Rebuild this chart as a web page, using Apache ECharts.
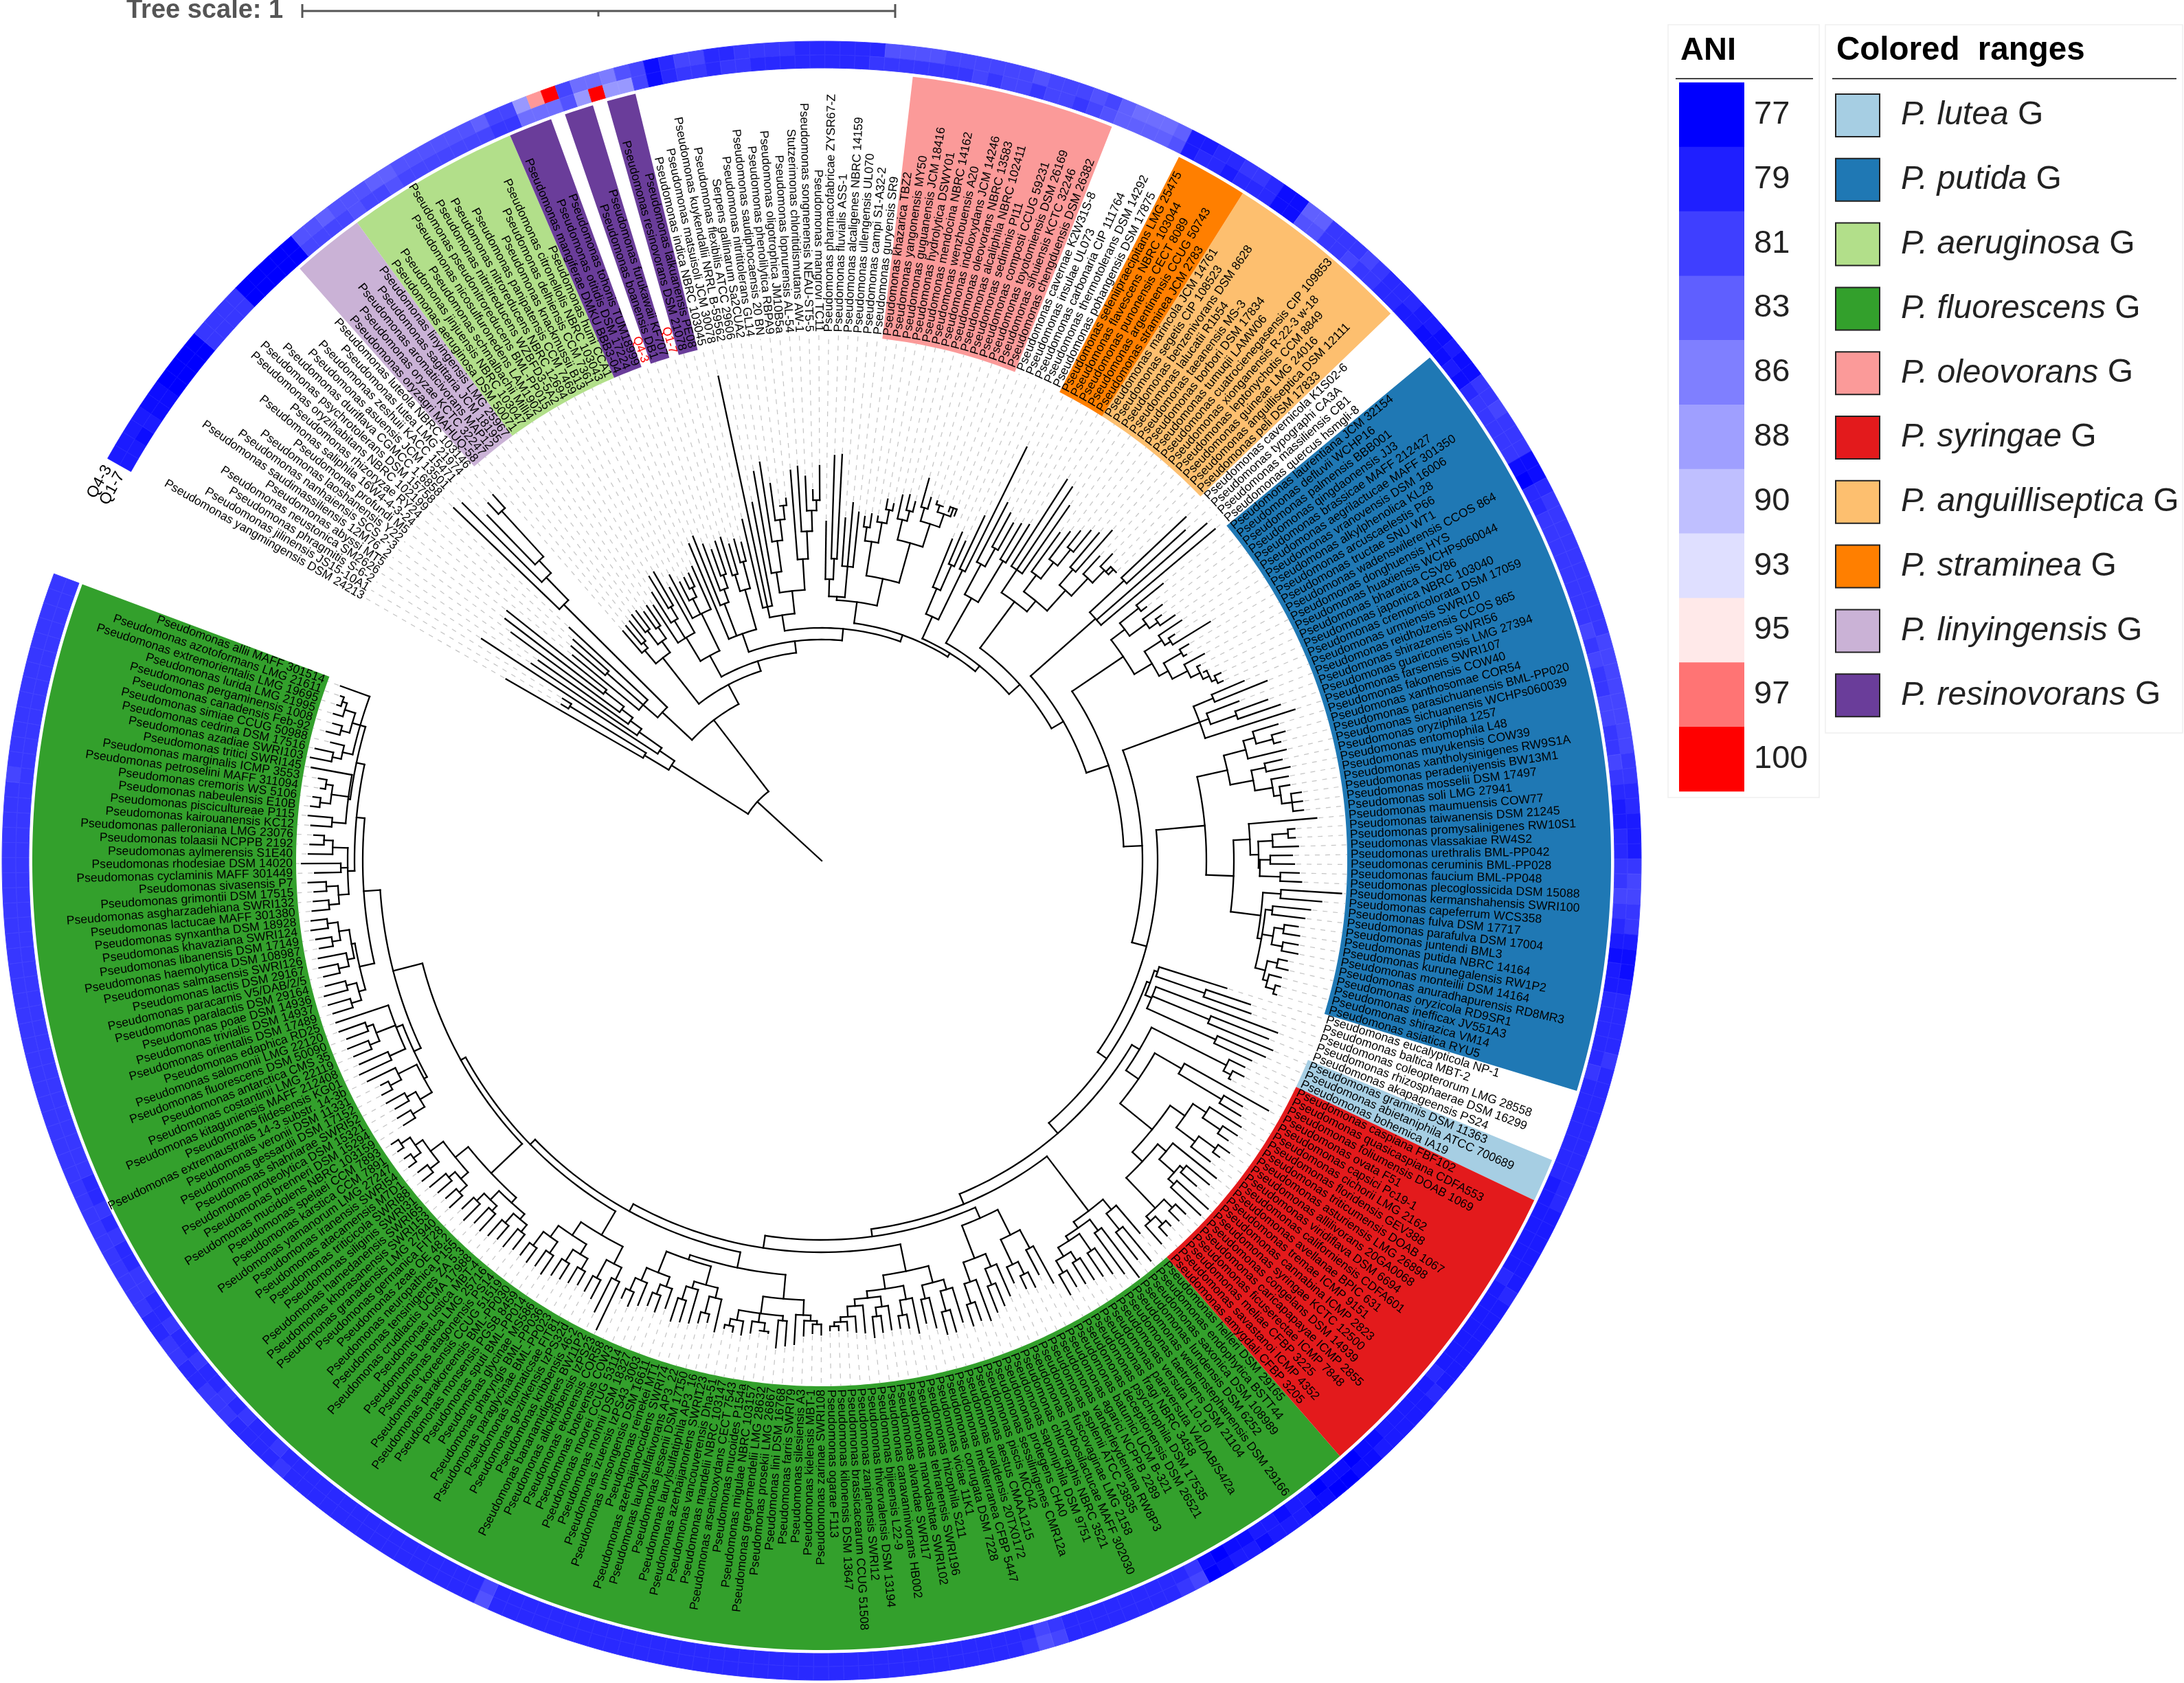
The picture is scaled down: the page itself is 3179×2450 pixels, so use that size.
<!DOCTYPE html>
<html>
<head>
<meta charset="utf-8">
<title>Pseudomonas ANI tree</title>
<script src="https://cdn.jsdelivr.net/npm/echarts@6/dist/echarts.min.js"></script>
<style>
  html, body { margin: 0; padding: 0; background: #fff; }
  #chart { width: 3179px; height: 2450px; }
</style>
</head>
<body>
<div id="chart"></div>
<script>
// leaves, clockwise from the top left end of the ring
const namesOutgroup = ['yangmingensis DSM 24213','jilinensis JS15-10A1','phragmitis S-6-2','neustonica SM2626','abyssi MT5','saudimassiliensis 12M76_2','nanhaiensis SCS 2-3','laoshanensis Y22','profundi M5','saliphila 16W4-4-3-24','rhizoryzae RY24','oryzihabitans NBRC 102199','psychrotolerans DSM 15758','duriflava CGMCC 1.6858','asuensis JCM 13501','zeshuii KACC 15471','lutea LMG 21974','luteola NBRC 103146'];
const namesLinyingensis = ['oryzagri MAHUQ-58','oryzae KCTC 32247','aromaticivorans MAP12','sagittaria JCM 18195','linyingensis LMG 25967'];
const namesAeruginosa = ['aeruginosa DSM 50071','jinjuensis NBRC 103047','schmalbachii Milli4','nicosulfuronedens LAM1902','pseudonitroreducens BML-PP015','nitritireducens WZBFD3-5A2','nitroreducens NBRC 12694','panipatensis CCM 7469','knackmussii B13','delhiensis CCM 7361','citronellolis NBRC 103043','humi CCA1'];
const namesResinovorans = ['mangiferae DMKU BBB3-04','otitidis DSM 17224','tohonis TUM18999','Q4-3','boanensis DB1','furukawaii KF707','Q1-7','resinovorans DSM 21078','lalkuanensis PE08'];
const namesTop = ['indica NBRC 103045','matsuisoli JCM 30078','kuykendallii NRRL B-59562','flexibilis ATCC 29606','Serpens gallinarum Sa2CUA2','nitrititolerans GL14','saudiphocaensis 20 BN','phenolilytica RBPA9','oligotrophica JM10B5a','lopnurensis AL-54','Stutzerimonas chloritidismutans AW-1','songnenensis NEAU-ST5-5','mangrovi TC11','pharmacofabricae ZYSR67-Z','fluvialis ASS-1','alcaligenes NBRC 14159','ullengensis UL070','campi S1-A32-2','guryensis SR9'];
const namesOleovorans = ['khazarica TBZ2','yangonensis MY50','guguanensis JCM 18416','hydrolytica DSWY01','mendocina NBRC 14162','wenzhouensis A20','indoloxydans JCM 14246','oleovorans NBRC 13583','alcaliphila NBRC 102411','sediminis PI11','composti CCUG 59231','toyotomiensis DSM 26169','sihuiensis KCTC 32246','chengduensis DSM 26382'];
const namesAfterOleo = ['cavernae K2W31S-8','insulae UL073','carbonaria CIP 111764','thermotolerans DSM 14292','pohangensis DSM 17875'];
const namesStraminea = ['seleniipraecipitans LMG 25475','flavescens NBRC 103044','punonensis CECT 8089','argentinensis CCUG 50743','straminea JCM 2783'];
const namesAnguilliseptica = ['marincola JCM 14761','segetis CIP 108523','benzenivorans DSM 8628','lalucatii R1b54','taeanensis MS-3','borbori DSM 17834','tumuqii LAMW06','cuatrocienegasensis CIP 109853','xionganensis R-22-3 w-18','leptonychotis CCM 8849','guineae LMG 24016','anguilliseptica DSM 12111','peli DSM 17833'];
const namesAfterAngu = ['cavernicola K1S02-6','typographi CA3A','massiliensis CB1','quercus hsmgli-8'];
const namesPutida = ['laurentiana JCM 32154','defluvii WCHP16','palmensis BBB001','qingdaonensis JJ3','brassicae MAFF 212427','aegrilactucae MAFF 301350','vranovensis DSM 16006','alkylphenolica KL28','arcuscaelestis P66','tructae SNU WT1','wadenswilerensis CCOS 864','donghuensis HYS','huaxiensis WCHPs060044','bharatica CSV86','japonica NBRC 103040','cremoricolorata DSM 17059','urmiensis SWRI10','reidholzensis CCOS 865','shirazensis SWRI56','guariconensis LMG 27394','farsensis SWRI107','fakonensis COW40','xanthosomae COR54','parasichuanensis BML-PP020','sichuanensis WCHPs060039','oryziphila 1257','entomophila L48','muyukensis COW39','xantholysinigenes RW9S1A','peradeniyensis BW13M1','mosselii DSM 17497','soli LMG 27941','maumuensis COW77','taiwanensis DSM 21245','promysalinigenes RW10S1','vlassakiae RW4S2','urethralis BML-PP042','ceruminis BML-PP028','faucium BML-PP048','plecoglossicida DSM 15088','kermanshahensis SWRI100','capeferrum WCS358','fulva DSM 17717','parafulva DSM 17004','juntendi BML3','putida NBRC 14164','kurunegalensis RW1P2','monteilii DSM 14164','anuradhapurensis RD8MR3','oryzicola RD9SR1','inefficax JV551A3','shirazica VM14','asiatica RYU5'];
const namesAfterPutida = ['eucalypticola NP-1','baltica MBT-2','coleopterorum LMG 28558','rhizosphaerae DSM 16299','akapageensis PS24'];
const namesLutea = ['graminis DSM 11363','abietaniphila ATCC 700689','bohemica IA19'];
const namesSyringae = ['caspiana FBF102','quasicaspiana CDFA553','foliumensis DOAB 1069','ovata F51','capsici Pc19-1','cichorii LMG 2162','floridensis GEV388','triticumensis DOAB 1067','asturiensis LMG 26898','allilivorans 20GA0068','viridiflava DSM 6694','californiensis CDFA601','avellanae BPIC 631','tremae ICMP 9151','cannabina ICMP 2823','syringae KCTC 12500','congelans DSM 14939','caricapapayae ICMP 2855','ficuserectae ICMP 7848','meliae CFBP 3225','savastanoi ICMP 4352','amygdali CFBP 3205'];
const namesFluorescens = ['helleri DSM 29165','endophytica BSTT44','saxonica DSM 108989','lundensis DSM 6252','weihenstephanensis DSM 29166','taetrolens DSM 21104','versuta L10.10','paraversuta V4/DAB/S4/2a','fragi NBRC 3458','psychrophila DSM 17535','deceptionensis DSM 26521','batumici UCM B-321','agarici NCPPB 2289','vanderleydeniana RW8P3','asplenii ATCC 23835','fuscovaginae LMG 2158','morbosilactucae MAFF 302030','chlororaphis NBRC 3521','saponiphila DSM 9751','protegens CHA0','sessilinigenes CMR12a','piscis MC042','aestus CMAA1215','uvaldensis 20TX0172','mediterranea CFBP 5447','corrugata DSM 7228','viciae 11K1','rhizophila S211','tehranensis SWRI196','marvdashtae SWRI102','alvandae SWRI17','canavaninivorans HB002','bijieensis L22-9','thivervalensis DSM 13194','zanjanensis SWRI12','brassicacearum CCUG 51508','kilonensis DSM 13647','ogarae F113','zarinae SWRI108','kielensis MBT-1','silesiensis A3','farris SWRI79','lini DSM 16768','prosekii LMG 26867','gregormendelii LMG 28632','migulae NBRC 103157','mucoides P154a','arsenicoxydans CECT 7543','mandelii NBRC 103147','vancouverensis Dha-51','azerbaijanoriens SWRI123','laurylsulfatiphila AP3_16','jessenii DSM 17150','laurylsulfativorans AP3_22','azerbaijanoccidens SWRI74','reinekei MT1','umsongensis DSM 16611','izuensis IzPS43_3003','mohnii DSM 18327','moorei CCUG 53114','botevensis COW3','ekonensis COR58','allokribbensis IzPS23','bananamidigenes BW11P2','kribbensis 46-2','gozinkensis IzPS32d','fitomaticsae FIT81','paraglycinae BML-PP023','pharyngis BML-PP036','glycinae MS586','sputi BML-PP014','monsensis PGSB 8459','parakoreensis BML-PP030','koreensis CCUG 51519','atagonensis PS14','baetica LMG 25716','rustica MBT-4','crudilactis UCMA 17988','tensinigenes ZA 5.3','neuropathica P155','zeae OE 48.2','germanica FIT28','granadensis LMG 27940','khorasanensis SWRI153','hamedanensis SWRI65','siliginis SWRI31','triticicola SWRI88','atacamensis M7D1','iranensis SWRI54','yamanorum LMG 27247','karstica CCM 7891','spelaei CCM 7893','mucidolens NBRC 103159','brenneri DSM 15294','proteolytica DSM 15321','shahriarae SWRI52','gessardii DSM 17152','veronii DSM 11331','extremaustralis 14-3 substr. 14-3b','fildesensis KG01','kitaguniensis MAFF 212408','costantinii LMG 22119','antarctica CMS 35','fluorescens DSM 50090','salomonii LMG 22120','edaphica RD25','orientalis DSM 17489','trivialis DSM 14937','poae DSM 14936','paralactis DSM 29164','paracarnis V5/DAB/2/5','lactis DSM 29167','salmasensis SWRI126','haemolytica DSM 108987','libanensis DSM 17149','khavaziana SWRI124','synxantha DSM 18928','lactucae MAFF 301380','asgharzadehiana SWRI132','grimontii DSM 17515','sivasensis P7','cyclaminis MAFF 301449','rhodesiae DSM 14020','aylmerensis S1E40','tolaasii NCPPB 2192','palleroniana LMG 23076','kairouanensis KC12','piscicultureae P115','nabeulensis E10B','cremoris WS 5106','petroselini MAFF 311094','marginalis ICMP 3553','tritici SWRI145','azadiae SWRI103','cedrina DSM 17516','simiae CCUG 50988','canadensis Feb-92','pergaminensis 1008','lurida LMG 21995','extremorientalis LMG 19695','azotoformans LMG 21611','allii MAFF 301514'];

// ANI per leaf against the two query genomes
const aniQ43 = [
79,79,79,79,78,78,77,77,77,77, 81,81,81,81,77,77,77,77,77,83,
83,84,83,83,83,84,84,83,83,83, 83,83,83,84,82,82,88,97,100,82,
85,85,86,83,82,78,80,82,82,80, 80,81,81,81,81,80,80,80,80,80,
80,83,83,83,83,82,82,82,82,82, 82,83,82,82,82,83,82,84,85,85,
85,84,79,79,80,80,81,81,80,78, 78,84,84,81,81,81,82,81,80,80,
80,79,79,78,79,78,78,81,81,82, 81,81,81,78,78,80,81,81,81,81,
81,81,81,81,81,81,82,82,82,82, 82,82,82,82,81,81,80,80,79,79,
79,81,82,82,81,81,79,78,78,79, 80,80,80,80,81,80,80,80,80,80,
80,80,80,80,80,79,79,79,79,79, 79,80,79,79,79,79,79,79,79,80,
79,79,79,79,79,78,78,77,77,78, 78,79,79,79,78,79,79,78,77,82,
81,80,80,80,80,80,80,80,80,82, 83,81,80,80,80,80,80,80,80,80,
80,80,80,80,80,80,80,80,80,80, 80,80,80,80,80,80,80,80,80,80,
80,80,80,80,80,80,80,80,83,80, 80,80,80,80,80,80,80,80,80,80,
80,80,80,80,81,80,80,80,80,81, 81,81,80,80,81,81,80,80,81,81,
81,81,81,81,81,81,81,81,81,81, 81,81,81,81,81,81,81,81,81,81,
81,81,81,81,81,81,81,81,81,81, 81,81,81,81,81,82,81,81,81,81,
81,81,81,81,81,81,81,81,81];
const aniQ17 = [
79,79,78,79,78,78,77,77,77,77, 81,81,81,81,77,77,77,77,77,82,
82,82,82,83,82,82,83,82,82,82, 82,82,82,82,81,81,85,85,85,83,
88,100,88,88,82,78,80,81,81,80, 81,81,80,80,80,80,80,80,80,80,
81,81,81,81,81,81,81,82,81,82, 82,81,82,82,81,82,83,84,84,84,
84,83,79,80,80,79,80,80,80,78, 78,83,83,81,81,82,81,81,80,80,
79,79,78,78,78,79,78,80,81,81, 81,81,81,78,77,80,80,81,81,81,
81,81,81,81,81,82,81,82,81,81, 82,82,81,81,82,81,80,79,79,80,
80,81,81,82,81,80,79,78,79,79, 80,80,80,80,80,81,80,80,80,80,
80,80,80,79,79,79,79,79,79,79, 80,79,79,79,79,79,79,79,80,79,
79,79,79,79,78,78,77,78,78,77, 79,79,78,79,79,78,78,77,78,81,
80,80,80,80,80,80,80,80,80,81, 82,80,80,80,80,80,80,80,80,80,
80,80,80,80,80,80,80,80,80,80, 80,80,80,80,80,80,80,80,80,80,
80,80,80,80,80,80,80,80,82,80, 80,80,80,80,80,80,80,80,80,80,
80,80,80,80,80,81,80,80,81,80, 81,80,80,81,80,80,81,80,80,81,
81,80,80,81,80,81,80,80,81,81, 81,81,81,81,81,81,81,81,81,81,
81,81,81,81,81,81,81,81,81,81, 81,81,81,81,81,81,81,81,81,81,
81,81,81,81,81,81,81,81,81];

// tree: [node radius, ...children], a bare number is a leaf tip radius
const cladeO1 = [259, [300,530,[430,442,445]], [285,591,[325,511,[345,505,[365,561,[400,580,585]]]]]];
const cladeO2a = [345, 470, [415,480,484], 500];
const cladeO2b = [529, 742, [575,738,[600,700,[690,712,716]]]];
const cladeA = [375, [400,442,[410,445,447]], [395,[420,452,453],[415,445,450]]];
const cladeL = [340, [380,445,[410,462,[430,484,486]],455], [400,471,[425,455,[440,458,461]],468]];
const cladeM1 = [350, 500, [400,508,[420,492,[440,480,490]]], [410,[435,493,480],[450,485,478]]];
const cladeM2 = [362, [378,510,721,531], [395,[425,575,[470,587,[500,554,[520,520,530]]]],[440,570,[480,575,[510,560,[525,540,575]]]]]];
const cladeM3 = [385, [410,494,[440,590,592]], [430,500,523,510]];
const cladeM4 = [420, [470,[490,505,510],[500,508,[520,535,530]]], [480,[510,545,[525,548,540]],[515,[535,578,552],[535,[545,550,545],[548,541,538]]]]];
const cladeM5 = [390, [430,505,[470,520,510]], [470,555,672]];
const cladeM6 = [440, [490,587,[520,576,565]], [510,570,575]];
const cladeM7 = [470, [510,660,655,630], [490,[520,590,[550,600,[580,610,620]]],[530,[560,625,640],[565,600,[590,615,[600,590,600]]]]]];
const cladeM8 = [532, [600,729,715], 745, 749];
const cladeB1 = [530, [555,[590,640,600],[585,620,[600,610,626]]], [560,[590,630,[600,610,664]],[575,[605,620,610],[600,633,[615,620,[625,620,[632,642,640]]]]]]];
const cladeB2a = [586, [617,668,699], [600,650,[640,690,705]], 723];
const cladeB2b = [605, [638,[655,693,[680,700,690]],695], [639,[660,686,695],[665,690,[675,690,[690,705,705,705]]]]];
const cladeB2c = [624, 723, [636,[657,[680,690,690],694],[638,[653,685,688],[668,695,699]]]];
const cladeB2d = [644, [670,758,730], [650,[660,715,708],[666,[680,700,704],[682,704,706]],[665,[680,693,697],[672,690,[685,692,690]]]]];
const cladeP1 = [515, 618, [590,658,663]];
const cladeP2 = [520, 709, [610,700,712], [630,706,690]];
const cladeR1 = [660, 685, [672,690,675]];
const cladeR2 = [605, 745, [678,709,714]];
const cladeR3 = [646, [669,723,[700,725,718]], [680,[710,730,722],715]];
const cladeR4 = [656, 737, [685,[692,735,722],[696,757,755]]];
const cladeR5 = [701, [718,738,738], [710,[725,735,742],745]];
const cladeG1a = [641, [660,713,[690,754,740]], [652,[672,762,745],[660,[690,735,730],[675,[690,727,725],[695,722,728]]]]];
const cladeG1b = [569, [610,[640,701,680],[650,[670,694,690],675]], [620,[640,690,[665,700,705]],[650,713,[680,708,712]]]];
const cladeG2 = [610, [635,[650,702,[680,713,713]],[655,700,690]], [630,[650,702,[672,692,690]],[640,[655,690,[668,692,698]],[650,690,[665,688,[672,685,[678,684,684]]]]]]];
const cladeG3a = [640, [662,[670,[675,690,688],692],705], [665,[672,708,712],[678,[690,692,690],695],[680,700,[690,698,695]]]];
const cladeG3b = [612, [640,[655,703,[680,692,696]],[650,700,[670,702,705]]], [645,[660,690,[675,700,695]],[665,700,[685,707,700]]]];
const cladeG4 = [632, [660,[680,757,735],[690,720,715]], [655,[672,[690,712,716],[692,718,720]],[675,[695,727,722],[700,725,722]]]];
const cladeG5 = [662, [672,[682,[695,722,728],[700,725,730]],[690,[700,733,730],[705,738,728]]], [686,[700,[715,740,735],[712,738,742]],[709,[725,745,742],[722,[735,748,746],[738,748,750]]]]];
const cladeH1 = [660, [680,[700,720,722],[695,718,725]], [690,[708,725,720],735]];
const cladeH2 = [665, [690,741,735], [695,[710,738,742],[705,738,745]], 745];
const cladeH3 = [690, [700,[715,745,748],[715,750,745]], [695,[705,[720,744,748],746],[710,[722,742,745],[725,750,748]]]];
const cladeH4 = [690, [705,[720,745,742],[722,740,748]], [700,738,757], [712,747,[725,745,740]]];
const cladeH5 = [695, [715,745,750], [720,[735,748,746],[730,737,742]], 755];
const cladeH6 = [700, [715,[728,759,755],735], [712,[725,745,739],[728,742,[735,741,740]]], 745];

// backbone ladder, built from the far end back to the root
const rungH = [644, [655,cladeH1,cladeH2], [668,cladeH3,[680,cladeH4,[692,cladeH5,cladeH6]]]];
const rungG5 = [600, cladeG5, rungH];
const rungG4 = [592, cladeG4, rungG5];
const rungG3 = [582, [605,cladeG3a,cladeG3b], rungG4];
const rungG2 = [570, cladeG2, rungG3];
const rungG1b = [552, cladeG1b, rungG2];
const rungG1a = [541, cladeG1a, rungG1b];
const rungRed = [525, [538,cladeR1,[560,cladeR2,[620,cladeR3,[640,cladeR4,cladeR5]]]], rungG1a];
const rungP = [505, [510,cladeP1,cladeP2], rungRed];
const rungB2 = [489, [560,cladeB2b,[600,cladeB2c,cladeB2d]], rungP];
const rungB2a = [467, cladeB2a, rungB2];
const rungB1 = [440, cladeB1, rungB2a];
const rungM8 = [406, cladeM8, rungB1];
const rungM7 = [386, cladeM7, rungM8];
const rungM6 = [365, cladeM6, rungM7];
const rungM5 = [355, cladeM5, rungM6];
const rungM34 = [349, [380,cladeM3,cladeM4], rungM5];
const rungM2 = [339, cladeM2, rungM34];
const rungM1 = [322, cladeM1, rungM2];
const rungL = [305, cladeL, rungM1];
const rungA = [290, cladeA, rungL];
const rungO2 = [258, [317,cladeO2a,cladeO2b], rungA];
const treeRoot = [127, cladeO1, rungO2];

// colored ranges: legend order, first and last leaf of each block
const rangeNames = ['P. lutea','P. putida','P. aeruginosa','P. fluorescens','P. oleovorans','P. syringae','P. anguilliseptica','P. straminea','P. linyingensis','P. resinovorans'];
const rangeColors = ['#a6cee3','#1f78b4','#b2df8a','#33a02c','#fb9a99','#e31a1c','#fdbf6f','#ff7f00','#cab2d6','#6a3d9a'];
const rangeFirst = [[162],[104],[23],[187],[63],[165],[87],[82],[18],[35,39,42]];
const rangeLast = [[164],[156],[34],[328],[76],[186],[99],[86],[22],[37,40,43]];

const aniTicks = [77,79,81,83,86,88,90,93,95,97,100];
const aniColors = ['#0000ff','#1f1fff','#3f3fff','#5f5fff','#7f7fff','#9f9fff','#bfbfff','#dfdfff','#ffe9e9','#ff7474','#ff0000'];
const ringNames = ['Q4-3','Q1-7'];

const leafNames = [].concat(namesOutgroup, namesLinyingensis, namesAeruginosa, namesResinovorans, namesTop, namesOleovorans, namesAfterOleo, namesStraminea, namesAnguilliseptica, namesAfterAngu, namesPutida, namesAfterPutida, namesLutea, namesSyringae, namesFluorescens)
  .map(n => /^[A-Z]/.test(n) ? n : 'Pseudomonas ' + n);

const nLeaves = leafNames.length;
const startDeg = 150.6;
const leafDeg = 351.1 / nLeaves;
const labelR = 770, rangeR0 = 765, rangeR1 = 1149;
const ringInner = [1173, 1193], ringOuter = [1154, 1173];

// walk the tree: radial segments and arcs, angles in leaf units
const segments = [];
const tips = [];
let nextLeaf = 0;
function walk(node, parentR) {
  if (typeof node === 'number') {
    const a = nextLeaf + 0.5;
    tips[nextLeaf++] = node;
    segments.push([parentR, a, node, a]);
    return a;
  }
  const r = node[0];
  const angles = node.slice(1).map(c => walk(c, r));
  const first = angles[0], last = angles[angles.length - 1];
  segments.push([r, first, r, last]);
  const mid = (first + last) / 2;
  segments.push([parentR, mid, r, mid]);
  return mid;
}
walk(treeRoot, 0);
if (nextLeaf !== nLeaves) throw new Error('tree leaves ' + nextLeaf + ' vs names ' + nLeaves);
if (aniQ43.length !== nLeaves || aniQ17.length !== nLeaves) throw new Error('ani lengths ' + aniQ43.length + ' ' + aniQ17.length);

// sampled ring piece through the polar scales
function wedge(api, r0, r1, a0, a1) {
  const steps = Math.max(2, Math.ceil((a1 - a0) * 2));
  const pts = [];
  for (let k = 0; k <= steps; k++) pts.push(api.coord([r1, a0 + (a1 - a0) * k / steps]));
  for (let k = steps; k >= 0; k--) pts.push(api.coord([r0, a0 + (a1 - a0) * k / steps]));
  return pts;
}
function arcLine(api, r0, a0, r1, a1) {
  if (r0 !== r1) return [api.coord([r0, a0]), api.coord([r1, a1])];
  const steps = Math.max(1, Math.ceil(Math.abs(a1 - a0)));
  const pts = [];
  for (let k = 0; k <= steps; k++) pts.push(api.coord([r0, a0 + (a1 - a0) * k / steps]));
  return pts;
}

const rangeData = [];
rangeColors.forEach((c, k) => {
  rangeFirst[k].forEach((f, j) => rangeData.push([rangeR0, f, rangeR1, rangeLast[k][j] + 1, c]));
});

const ringData = [];
for (let i = 0; i < nLeaves; i++) {
  ringData.push([ringInner[0], i, ringInner[1], aniQ43[i]]);
  ringData.push([ringOuter[0], i, ringOuter[1], aniQ17[i]]);
}

function polarSeries(name, data, renderItem, z) {
  return { type: 'custom', name, coordinateSystem: 'polar', data, renderItem, z, silent: true, clip: false,
    animation: false, progressive: 0, encode: { radius: 0, angle: 1 } };
}

const series = [
  polarSeries('ranges', rangeData, (p, api) => {
    const d = rangeData[p.dataIndex];
    return { type: 'polygon', shape: { points: wedge(api, d[0], d[2], d[1], d[3]) }, style: { fill: d[4] } };
  }, 1),
  polarSeries('ring', ringData, (p, api) => {
    const d = ringData[p.dataIndex];
    const col = echarts.color.lerp((d[3] - 77) / 23, aniColors);
    return { type: 'polygon', shape: { points: wedge(api, d[0], d[2], d[1], d[1] + 1) },
      style: { fill: col, stroke: echarts.color.lift(col, 0.06), lineWidth: 1 } };
  }, 1),
  polarSeries('leaders', tips.map((t, i) => [t, i + 0.5]), (p, api) => {
    const a = p.dataIndex + 0.5;
    return { type: 'polyline', shape: { points: [api.coord([tips[p.dataIndex] + 3, a]), api.coord([rangeR0, a])] },
      style: { fill: null, stroke: '#c4c4c4', lineWidth: 1.2, lineDash: [7, 8] } };
  }, 2),
  polarSeries('tree', segments, (p, api) => {
    const s = segments[p.dataIndex];
    return { type: 'polyline', shape: { points: arcLine(api, s[0], s[1], s[2], s[3]) },
      style: { fill: null, stroke: '#000', lineWidth: 2.3, lineCap: 'square' } };
  }, 3),
  polarSeries('labels', leafNames.map((n, i) => [labelR, i + 0.5]), (p, api) => {
    const i = p.dataIndex;
    const pt = api.coord([labelR, i + 0.5]);
    const deg = startDeg - (i + 0.5) * leafDeg;
    const right = Math.cos(deg * Math.PI / 180) > 0;
    const isQuery = ringNames.indexOf(leafNames[i]) >= 0;
    return { type: 'text', x: pt[0], y: pt[1], rotation: (right ? deg : deg - 180) * Math.PI / 180,
      style: { text: leafNames[i], fontFamily: 'Liberation Sans', fontSize: 17.6, fill: isQuery ? '#ff0000' : '#000',
        align: right ? 'left' : 'right', verticalAlign: 'middle' } };
  }, 4),
  polarSeries('ringNames', [[1187, -1.6], [1166, -1.6]], (p, api) => {
    const pt = api.coord(p.dataIndex === 0 ? [1187, -1.6] : [1166, -1.6]);
    return { type: 'text', x: pt[0], y: pt[1], rotation: 60.6 * Math.PI / 180,
      style: { text: ringNames[p.dataIndex], fontFamily: 'Liberation Sans', fontSize: 23, fill: '#000',
        align: 'center', verticalAlign: 'middle' } };
  }, 4)
];

// legends and the scale bar
const graphic = [];
function box(x, y, w, h, fill, stroke, lw) {
  graphic.push({ type: 'rect', shape: { x, y, width: w, height: h }, style: { fill: fill || null, stroke: stroke || null, lineWidth: lw || 0 } });
}
function line(x1, y1, x2, y2, stroke, lw) {
  graphic.push({ type: 'line', shape: { x1, y1, x2, y2 }, style: { stroke, lineWidth: lw } });
}
function text(x, y, t, font, fill, extra) {
  graphic.push({ type: 'text', x, y, style: Object.assign({ text: t, fontFamily: 'Liberation Sans', fill: fill || '#000', verticalAlign: 'middle' }, font, extra || {}) });
}
box(2428, 36, 220, 1125, '#fff', '#efefef', 1.5);
text(2446, 74, 'ANI', { fontSize: 47, fontWeight: 'bold' });
line(2439, 114.5, 2639, 114.5, '#000', 1.6);
aniTicks.forEach((t, i) => {
  box(2444, 120 + i * 93.8, 95, 94.3, aniColors[i]);
  text(2553, 120 + i * 93.8 + 47, String(t), { fontSize: 47 }, '#222');
});
box(2657, 36, 520, 1031, '#fff', '#efefef', 1.5);
text(2673, 74, 'Colored  ranges', { fontSize: 47.5, fontWeight: 'bold' });
line(2667, 114.5, 3168, 114.5, '#000', 1.6);
rangeNames.forEach((n, i) => {
  box(2672, 137 + i * 93.8, 64, 62, rangeColors[i], '#222', 2);
  text(2767, 168 + i * 93.8, '{i|' + n + '} {n|G}', { fontSize: 48 }, '#222',
    { rich: { i: { fontStyle: 'italic', fontSize: 48, fontFamily: 'Liberation Sans', fill: '#222' }, n: { fontSize: 48, fontFamily: 'Liberation Sans', fill: '#222' } } });
});
text(184, 16, 'Tree scale: 1', { fontSize: 38, fontWeight: 'bold' }, '#555');
line(440, 16, 1303, 16, '#555', 3);
line(440, 6, 440, 26, '#555', 3);
line(1303, 6, 1303, 26, '#555', 3);
line(871, 16, 871, 24, '#555', 3);

const chart = echarts.init(document.getElementById('chart'));
chart.setOption({
  backgroundColor: '#fff',
  animation: false,
  polar: { center: [1196, 1253], radius: 1195 },
  radiusAxis: { type: 'value', min: 0, max: 1195, show: false },
  angleAxis: { type: 'value', min: 0, max: 360 / leafDeg, startAngle: startDeg, clockwise: true, show: false },
  graphic: { elements: graphic },
  series
});
</script>
</body>
</html>
